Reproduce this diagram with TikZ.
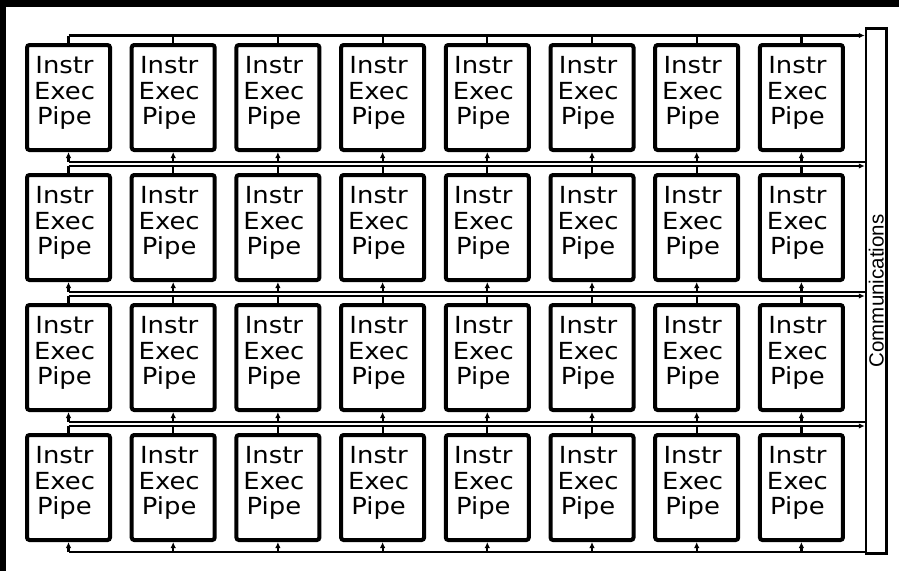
\documentclass[tikz,border=0pt]{standalone}
\usepackage{fontspec}
\newfontfamily\pefont[FakeStretch=1.1]{DejaVu Sans}
\newfontfamily\commfont{Liberation Sans}
\usetikzlibrary{arrows.meta}
\begin{document}
\begin{tikzpicture}[x=1pt,y=-1pt,
  pebox/.style={draw,line width=4pt,rounded corners=2.5pt,minimum width=83pt,minimum height=105pt,inner sep=0pt},
  petext/.style={align=center,inner sep=0pt,font=\pefont\fontsize{23.5}{25.5}\selectfont},
  commbox/.style={draw,line width=2.5pt,minimum width=20.5pt,minimum height=525pt,inner sep=0pt},
  bus/.style={line width=2.2pt},
  tip/.style={-{Latex[length=6pt,width=5.5pt]}}]
\useasboundingbox (0,0) rectangle (899,571);
\fill[black] (0,0) rectangle (899,7);
\fill[black] (0,0) rectangle (6,571);
% communications
\node[commbox] (comm) at (876.25,291) {};
\node[rotate=90,font=\commfont\fontsize{20.5}{22}\selectfont,inner sep=0pt] (commlbl) at (comm.center) {Communications};
% PE boxes
\foreach \r in {0,...,3}{
  \foreach \c in {0,...,7}{
    \node[pebox] (b-\r-\c) at (68.5+104.7*\c, 97.5+130*\r) {};
    \node[petext] (t-\r-\c) at ([xshift=-4pt,yshift=4.5pt]b-\r-\c.center) {Instr\\Exec\\Pipe};
  }
}
% top bus
\coordinate (tb) at (68.5,35.5);
\draw[bus,tip] (tb) -- (tb -| comm.west);
\foreach \c in {0,...,7}{\draw[bus] (b-0-\c.north) -- (b-0-\c.north |- tb);}
% inter-row buses
\foreach \r/\n in {0/1,1/2,2/3}{
  \coordinate (u-\r) at (68.5,162+130*\r);
  \coordinate (l-\r) at (68.5,166+130*\r);
  \draw[bus] (u-\r) -- (u-\r -| comm.west);
  \draw[bus,tip] (l-\r) -- (l-\r -| comm.west);
  \foreach \c in {0,...,7}{
    \draw[bus,tip] (b-\r-\c.south |- u-\r) -- (b-\r-\c.south);
    \draw[bus] (b-\n-\c.north) -- (b-\n-\c.north |- l-\r);
  }
}
% bottom bus
\coordinate (bb) at (68.5,552);
\draw[bus] (bb) -- (bb -| comm.west);
\foreach \c in {0,...,7}{\draw[bus,tip] (b-3-\c.south |- bb) -- (b-3-\c.south);}
\end{tikzpicture}
\end{document}
